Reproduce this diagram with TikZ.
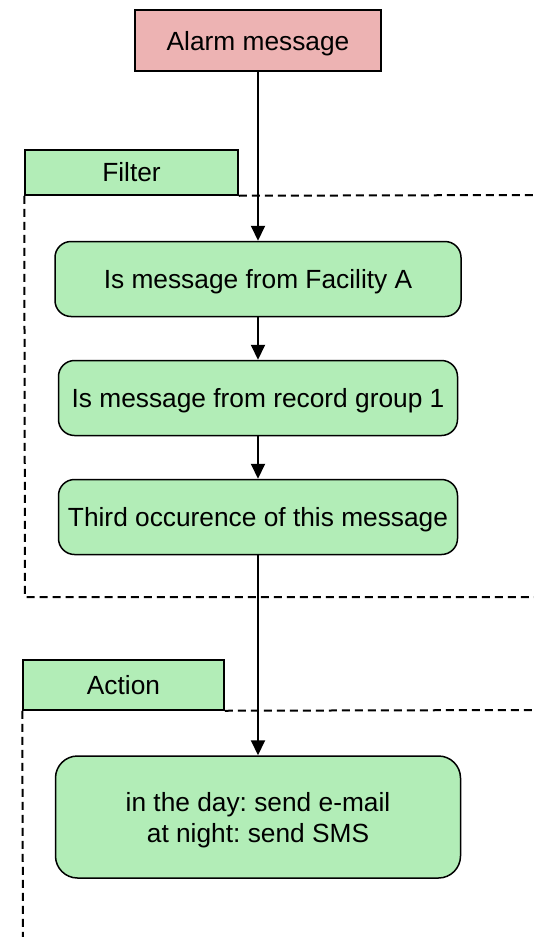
\documentclass[tikz,border=0pt]{standalone}
\usepackage{fontspec}
\setmainfont{Liberation Sans}
\usetikzlibrary{arrows.meta, positioning}
\definecolor{alarmred}{RGB}{237,179,179}
\definecolor{boxgreen}{RGB}{178,237,183}
\frenchspacing

\begin{document}
\begin{tikzpicture}[x=0.5pt, y=-0.5pt, node distance=21.25pt,
  font=\fontsize{13.15}{15.5}\selectfont,
  stepbox/.style={draw, line width=0.75pt, fill=boxgreen, rounded corners=8pt, minimum width=199.5pt, minimum height=37.5pt, align=center, inner sep=2pt, text depth=0pt},
  tabbox/.style={draw, line width=0.75pt, fill=boxgreen, minimum height=22.5pt},
  dashframe/.style={line width=1pt, dash pattern=on 4pt off 2.5pt},
  arrowline/.style={line width=1pt, -{Triangle[length=7.5pt, width=7pt]}}]
  \useasboundingbox (0,0) rectangle (534,937);
  % Incoming message
  \node[draw, line width=0.75pt, fill=alarmred, minimum width=123pt, minimum height=30.5pt, text depth=0pt, yshift=-0.5pt] (alarm) at (258,39.5) {Alarm message};
  % Filter section
  \node[tabbox, minimum width=106.5pt] (filter) at (131.5,172.5) {Filter};
  \draw[dashframe] (filter.south east) -- (534,195);
  \draw[dashframe] (filter.south west) -- (25,597) -- (534,597);
  \node[stepbox, minimum width=203pt, below=84.5pt of alarm] (facility) {Is message from Facility A};
  \node[stepbox, below=of facility] (group) {Is message from record group 1};
  \node[stepbox, below=of group] (third) {Third occurence of this message};
  % Action section
  \node[tabbox, minimum width=100.5pt, minimum height=25pt] (actiontab) at (123.5,685) {Action};
  \draw[dashframe] (actiontab.south east) -- (534,710);
  \draw[dashframe] (actiontab.south west) -- (23,937);
  \node[stepbox, minimum width=202.5pt, minimum height=61pt, rounded corners=11pt, below=100pt of third] (notify) {in the day: send e-mail\\at night: send SMS};
  % Arrows
  \draw[arrowline] (alarm) -- (facility);
  \draw[arrowline] (facility) -- (group);
  \draw[arrowline] (group) -- (third);
  \draw[arrowline] (third) -- (notify);
\end{tikzpicture}
\end{document}
